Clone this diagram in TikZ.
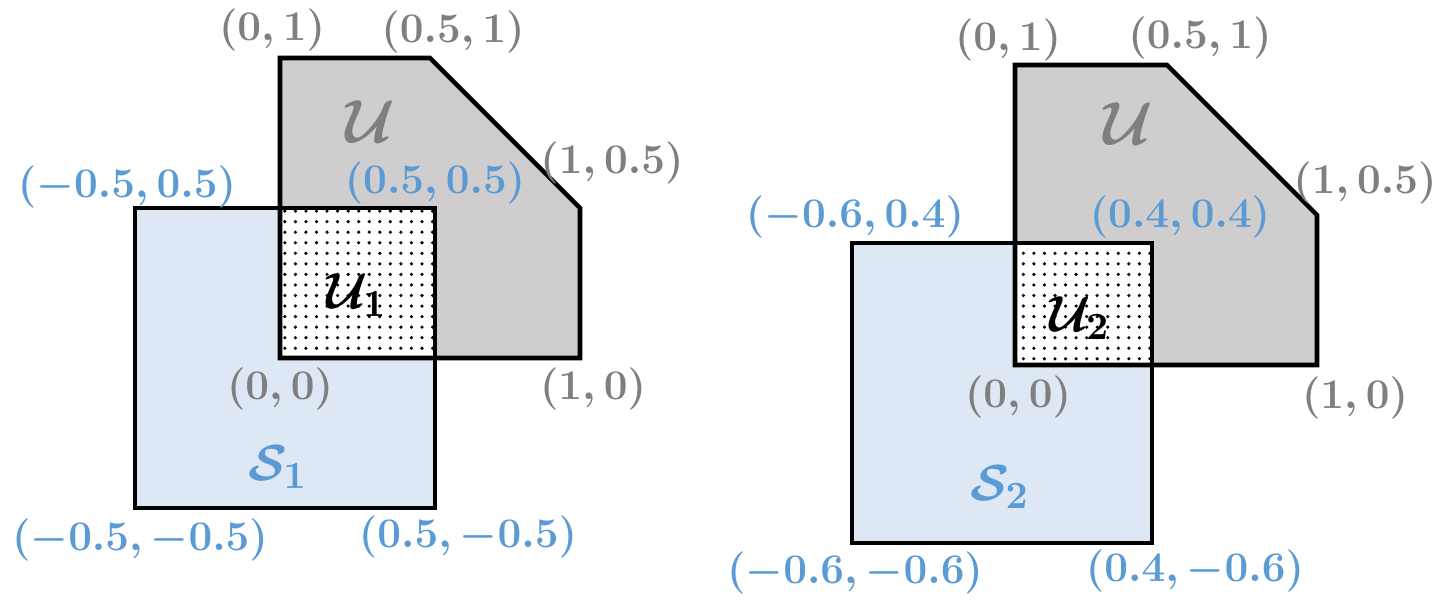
\documentclass[tikz,border=0pt]{standalone}
\usepackage{amsmath,bm}
\usetikzlibrary{patterns}
\definecolor{ugray}{RGB}{207,205,206}
\definecolor{sblue}{RGB}{221,232,244}
\definecolor{tblue}{RGB}{91,155,213}
\definecolor{tgray}{RGB}{127,127,127}
\begin{document}
\begin{tikzpicture}[x=0.01cm,y=-0.01cm,
  edge/.style={draw=black,line width=1.3pt,line join=miter},
  gl/.style={text=tgray,font=\fontsize{13}{15}\selectfont\boldmath},
  bl/.style={text=tblue,font=\fontsize{13}{15}\selectfont\boldmath},
  kl/.style={text=black,font=\fontsize{15}{17}\selectfont\boldmath}]
\useasboundingbox (0,0) rectangle (1454,612);
% left
\fill[ugray] (280,58)--(430,58)--(580,208)--(580,358)--(280,358)--cycle;
\fill[sblue] (135,208) rectangle (435,508);
\fill[white] (280,208) rectangle (435,358);
\fill[pattern=dots] (280,208) rectangle (435,358);
\draw[edge] (280,58)--(430,58)--(580,208)--(580,358)--(280,358)--cycle;
\draw[edge] (135,208) rectangle (435,508);
\node[gl] (a1) at (272,30) {$(0,1)$};
\node[gl] (a2) at (453,32) {$(0.5,1)$};
\node[gl,font=\fontsize{17}{19}\selectfont\boldmath] (a3) at (370,122) {$\mathcal{U}$};
\node[gl] (a4) at (612,163) {$(1,0.5)$};
\node[bl] (a5) at (127,187) {$(-0.5,0.5)$};
\node[bl] (a6) at (435,183) {$(0.5,0.5)$};
\node[kl] (a7) at (357,295) {$\mathcal{U}_1$};
\node[gl] (a8) at (280,389) {$(0,0)$};
\node[gl] (a9) at (593,389) {$(1,0)$};
\node[bl,font=\fontsize{15}{17}\selectfont\boldmath] (a10) at (278,467) {$\mathcal{S}_1$};
\node[bl] (a11) at (140,540) {$(-0.5,-0.5)$};
\node[bl] (a12) at (468,537) {$(0.5,-0.5)$};
% right
\fill[ugray] (1015,65)--(1167,65)--(1317,215)--(1317,365)--(1015,365)--cycle;
\fill[sblue] (852,243) rectangle (1152,543);
\fill[white] (1015,243) rectangle (1152,365);
\fill[pattern=dots] (1015,243) rectangle (1152,365);
\draw[edge] (1015,65)--(1167,65)--(1317,215)--(1317,365)--(1015,365)--cycle;
\draw[edge] (852,243) rectangle (1152,543);
\node[gl] (b1) at (1008,40) {$(0,1)$};
\node[gl] (b2) at (1200,38) {$(0.5,1)$};
\node[gl,font=\fontsize{17}{19}\selectfont\boldmath] (b3) at (1128,124) {$\mathcal{U}$};
\node[gl] (b4) at (1365,183) {$(1,0.5)$};
\node[bl] (b5) at (855,217) {$(-0.6,0.4)$};
\node[bl] (b6) at (1180,217) {$(0.4,0.4)$};
\node[kl] (b7) at (1080,318) {$\mathcal{U}_2$};
\node[gl] (b8) at (1018,397) {$(0,0)$};
\node[gl] (b9) at (1355,398) {$(1,0)$};
\node[bl,font=\fontsize{15}{17}\selectfont\boldmath] (b10) at (1000,487) {$\mathcal{S}_2$};
\node[bl] (b11) at (855,573) {$(-0.6,-0.6)$};
\node[bl] (b12) at (1195,571) {$(0.4,-0.6)$};
\end{tikzpicture}
\end{document}
